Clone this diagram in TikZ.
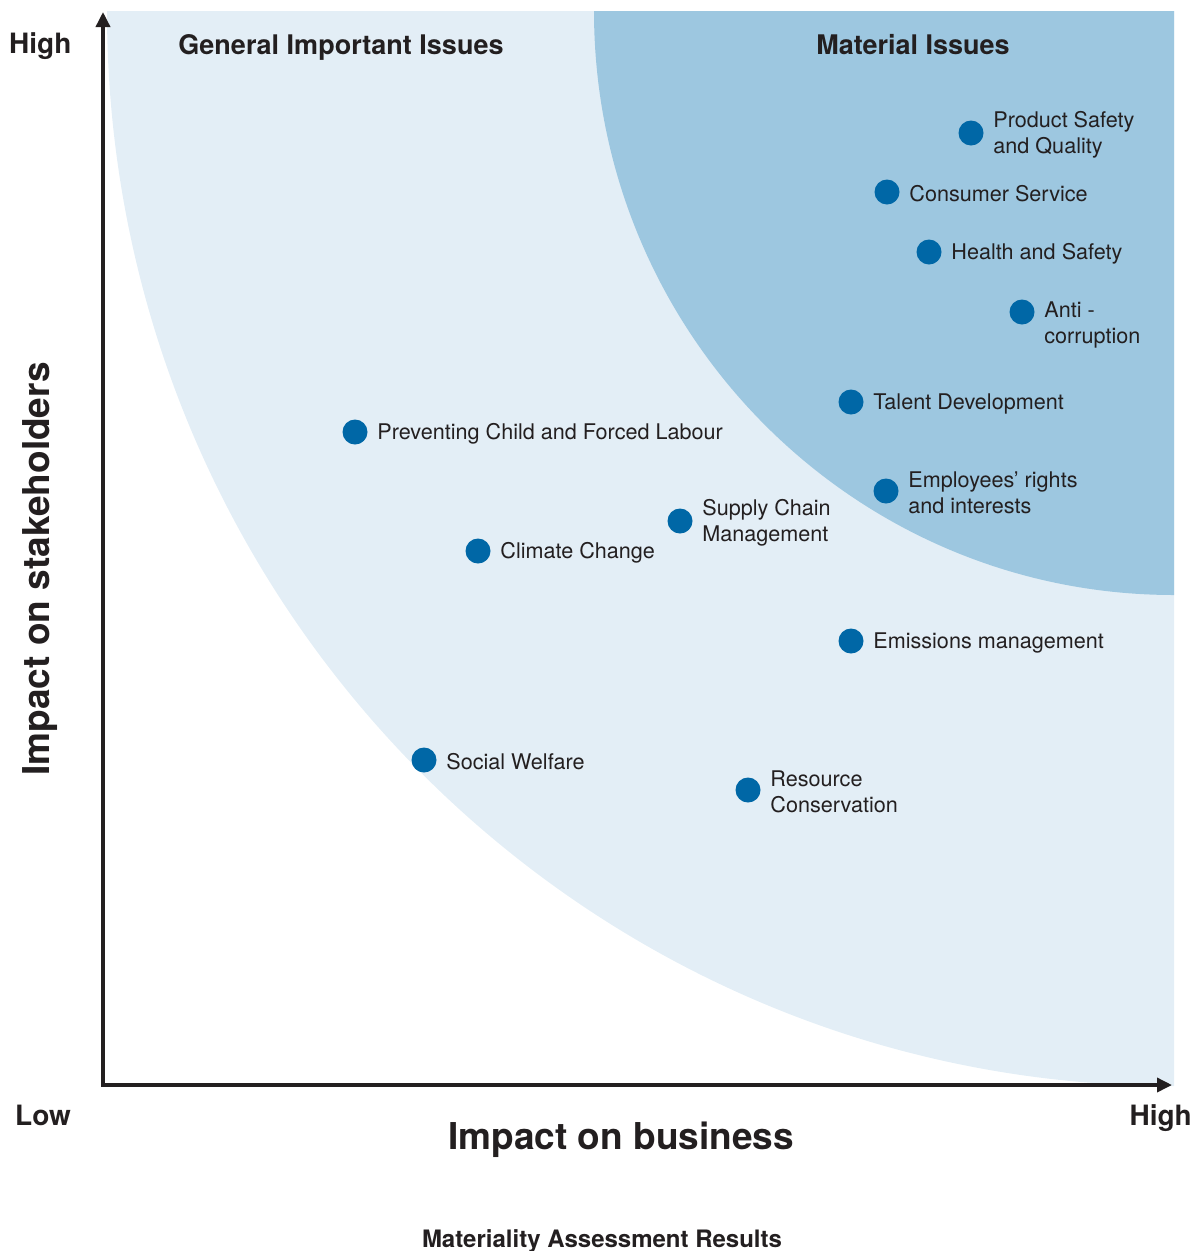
\documentclass[tikz,border=0pt]{standalone}
\usepackage{fontspec}
\setmainfont{TeX Gyre Heros}
\usetikzlibrary{arrows.meta,positioning}
\definecolor{inkgray}{HTML}{231F20}
\definecolor{zonelight}{HTML}{E3EEF6}
\definecolor{zonedark}{HTML}{9DC7E0}
\definecolor{dotblue}{HTML}{0067A6}

\begin{document}
\begin{tikzpicture}[x=1pt, y=-1pt,
    dot/.style={circle, fill=dotblue, inner sep=0pt, minimum size=25pt},
    issue/.style={inner sep=0pt, align=left, text=inkgray, font=\fontsize{21.6}{26}\selectfont},
    head/.style={inner sep=0pt, anchor=base, text=inkgray, font=\bfseries\fontsize{27}{32}\selectfont},
    axistitle/.style={inner sep=0pt, text=inkgray, font=\bfseries\fontsize{37}{44}\selectfont},
    axisline/.style={draw=inkgray, line width=3.5pt, {Triangle[length=15pt,width=14pt]}-{Triangle[length=15pt,width=14pt]}}]

    \useasboundingbox (0,0) rectangle (1196,1251);

    % zones
    \fill[zonelight] (107,11) -- (1174,11) -- (1174,1086)
        arc[start angle=270, end angle=180, x radius=1067pt, y radius=1075pt] -- cycle;
    \fill[zonedark] (594,11) -- (1174,11) -- (1174,595)
        arc[start angle=270, end angle=180, x radius=580pt, y radius=584pt] -- cycle;

    % axes
    \coordinate (ytop) at (103,12);
    \coordinate (orig) at (103,1085);
    \coordinate (xend) at (1172,1085);
    \draw[axisline] (ytop) -- (orig) -- (xend);

    \node at (9,53) [head, anchor=base west, font=\bfseries\fontsize{28}{32}\selectfont] (yhigh) {High};
    \node at (15,1125) [head, anchor=base west, font=\bfseries\fontsize{28}{32}\selectfont] (xlow) {Low};
    \node at (1192,1125) [head, anchor=base east, font=\bfseries\fontsize{28}{32}\selectfont] (xhigh) {High};

    \node at (341,54) [head] (general) {General Important Issues};
    \node at (913,54) [head] (material) {Material Issues};

    \node at (621,1149) [axistitle, anchor=base] (xtitle) {Impact on business};
    \node at (40,569) [axistitle, rotate=90] (ytitle) {Impact on stakeholders};
    \node at (602,1247) [head, font=\bfseries\fontsize{24}{28}\selectfont] (caption) {Materiality Assessment Results};

    % issues
    \node at (971,133) [dot] (d1) {};
    \node at (887,192) [dot] (d2) {};
    \node at (929,252) [dot] (d3) {};
    \node at (1022,312) [dot] (d4) {};
    \node at (851,402) [dot] (d5) {};
    \node at (355,432) [dot] (d6) {};
    \node at (886,491) [dot] (d7) {};
    \node at (680,521) [dot] (d8) {};
    \node at (478,551) [dot] (d9) {};
    \node at (851,641) [dot] (d10) {};
    \node at (424,760) [dot] (d11) {};
    \node at (748,790) [dot] (d12) {};

    \node [issue, right=9.5pt of d1, yshift=-2pt] (l1) {Product Safety\\and Quality};
    \node [issue, right=9.5pt of d2, yshift=-2pt] (l2) {Consumer Service};
    \node [issue, right=9.5pt of d3, yshift=-2pt] (l3) {Health and Safety};
    \node [issue, right=9.5pt of d4, yshift=-13pt] (l4) {Anti -\\corruption};
    \node [issue, right=9.5pt of d5, yshift=-2pt] (l5) {Talent Development};
    \node [issue, right=9.5pt of d6, yshift=-2pt] (l6) {Preventing Child and Forced Labour};
    \node [issue, right=9.5pt of d7, yshift=-2pt] (l7) {Employees’ rights\\and interests};
    \node [issue, right=9.5pt of d8, yshift=-2pt] (l8) {Supply Chain\\Management};
    \node [issue, right=9.5pt of d9, yshift=-2pt] (l9) {Climate Change};
    \node [issue, right=9.5pt of d10, yshift=-2pt] (l10) {Emissions management};
    \node [issue, right=9.5pt of d11, yshift=-2pt] (l11) {Social Welfare};
    \node [issue, right=9.5pt of d12, yshift=-2pt] (l12) {Resource\\Conservation};
\end{tikzpicture}
\end{document}
